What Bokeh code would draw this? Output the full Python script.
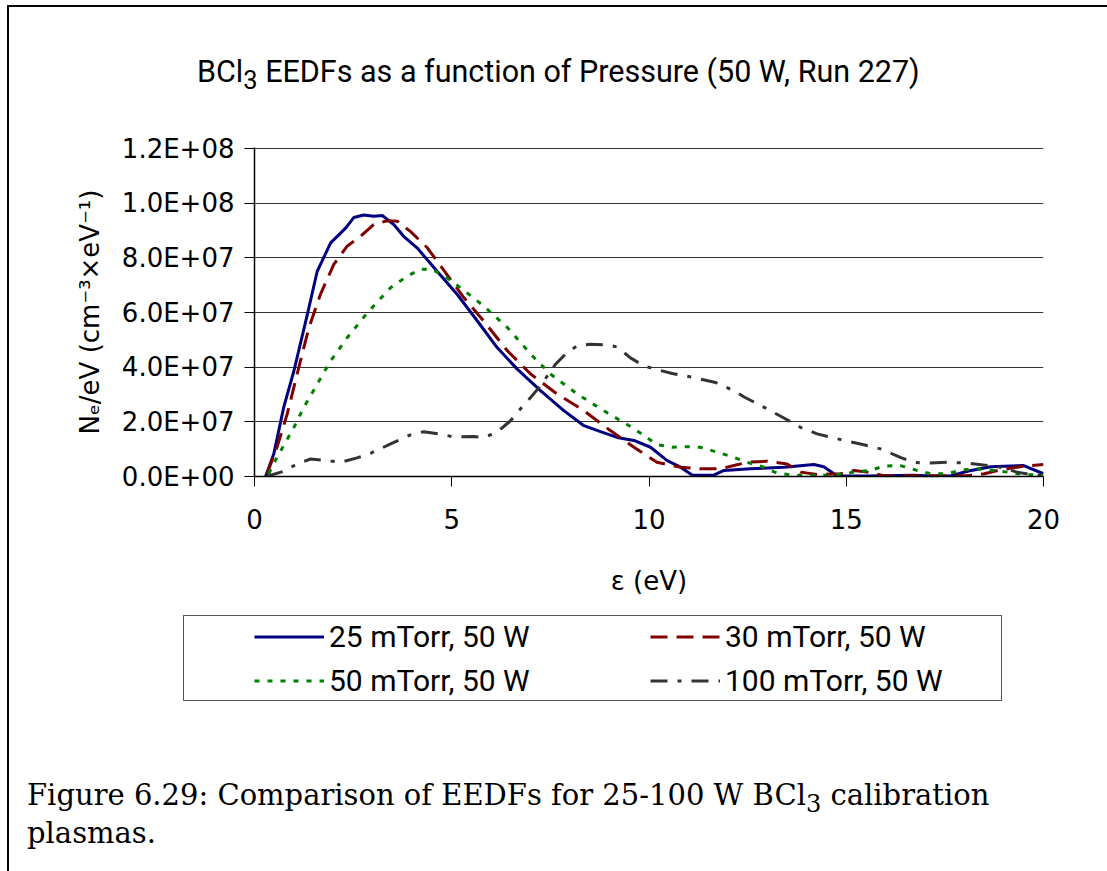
from bokeh.plotting import figure
from bokeh.layouts import column
from bokeh.models import FixedTicker, Legend, LegendItem, Div
from bokeh.embed import file_html
from bokeh.resources import INLINE

# ---------------- data ----------------
energy_25 = [0.28, 0.49, 0.74, 1.0, 1.34, 1.59, 1.93, 2.31, 2.52, 2.77, 3.02, 3.24, 3.53, 3.78,
             4.12, 4.63, 5.14, 5.65, 6.15, 6.66, 7.25, 7.84, 8.35, 8.77, 9.19, 9.62, 10.04, 10.46,
             10.8, 11.1, 11.64, 11.9, 12.57, 13.42, 14.18, 14.43, 14.77, 15.53, 16.7, 17.2, 17.64,
             18.07, 18.66, 19.5, 20.0]
eedf_25 = [0.0, 0.83e7, 2.53e7, 3.87e7, 5.93e7, 7.51e7, 8.55e7, 9.09e7, 9.48e7, 9.57e7, 9.52e7,
           9.55e7, 9.22e7, 8.79e7, 8.37e7, 7.51e7, 6.66e7, 5.69e7, 4.72e7, 3.93e7, 3.14e7, 2.41e7,
           1.86e7, 1.64e7, 1.43e7, 1.32e7, 1.07e7, 0.58e7, 0.34e7, 0.05e7, 0.05e7, 0.22e7, 0.28e7,
           0.34e7, 0.44e7, 0.36e7, 0.02e7, 0.02e7, 0.05e7, 0.02e7, 0.02e7, 0.19e7, 0.36e7, 0.40e7,
           0.10e7]

energy_30 = [0.32, 0.57, 0.83, 1.08, 1.38, 1.67, 2.01, 2.35, 2.69, 3.02, 3.36, 3.62, 3.95, 4.38,
             4.88, 5.31, 5.81, 6.41, 7.0, 7.67, 8.35, 9.02, 9.62, 10.2, 10.8, 11.3, 11.81, 12.15,
             12.49, 13.0, 13.5, 13.84, 14.26, 14.86, 15.2, 15.53, 15.95, 17.2, 18.07, 18.5, 18.9,
             19.5, 20.0]
eedf_30 = [0.1e7, 1.07e7, 2.29e7, 3.75e7, 5.45e7, 6.66e7, 7.76e7, 8.43e7, 8.79e7, 9.22e7, 9.36e7,
           9.34e7, 8.97e7, 8.37e7, 7.39e7, 6.54e7, 5.69e7, 4.6e7, 3.75e7, 3.02e7, 2.41e7, 1.68e7,
           1.07e7, 0.52e7, 0.34e7, 0.28e7, 0.28e7, 0.40e7, 0.52e7, 0.56e7, 0.46e7, 0.16e7, 0.07e7,
           0.10e7, 0.22e7, 0.16e7, 0.03e7, 0.03e7, 0.03e7, 0.10e7, 0.24e7, 0.38e7, 0.44e7]

energy_50 = [0.36, 0.57, 1.0, 1.25, 1.59, 1.93, 2.35, 2.86, 3.45, 3.87, 4.21, 4.5, 4.88, 5.22,
             5.81, 6.41, 7.0, 7.5, 8.18, 8.85, 9.53, 9.87, 10.2, 10.59, 10.97, 11.3, 11.73, 12.15,
             12.49, 12.91, 13.25, 13.67, 14.69, 15.2, 15.61, 15.95, 16.37, 16.76, 17.14, 17.56,
             17.94, 18.32, 18.74, 19.08, 19.5, 20.0]
eedf_50 = [0.1e7, 0.7e7, 1.8e7, 2.53e7, 3.38e7, 4.23e7, 5.08e7, 5.99e7, 6.91e7, 7.33e7, 7.58e7,
           7.58e7, 7.27e7, 6.91e7, 6.24e7, 5.45e7, 4.48e7, 3.75e7, 3.02e7, 2.41e7, 1.83e7, 1.5e7,
           1.17e7, 1.07e7, 1.09e7, 1.07e7, 0.89e7, 0.70e7, 0.52e7, 0.34e7, 0.12e7, 0.05e7, 0.05e7,
           0.16e7, 0.22e7, 0.38e7, 0.40e7, 0.24e7, 0.10e7, 0.10e7, 0.24e7, 0.28e7, 0.22e7, 0.16e7,
           0.07e7, 0.05e7]

energy_100 = [0.3, 0.74, 1.08, 1.42, 1.84, 2.18, 2.6, 2.94, 3.45, 3.95, 4.29, 4.71, 5.05, 5.56,
              5.81, 6.15, 6.49, 6.7, 6.96, 7.25, 7.63, 7.92, 8.18, 8.52, 8.94, 9.19, 9.53, 9.87,
              10.21, 10.59, 11.14, 11.69, 12.15, 12.4, 13.0, 13.42, 13.84, 14.26, 14.86, 15.36,
              15.87, 16.37, 16.71, 16.97, 17.56, 18.07, 18.57, 18.9, 19.33, 19.67, 20.0]
eedf_100 = [0.0, 0.19e7, 0.46e7, 0.64e7, 0.58e7, 0.52e7, 0.68e7, 0.85e7, 1.19e7, 1.52e7, 1.64e7,
            1.55e7, 1.45e7, 1.46e7, 1.43e7, 1.62e7, 2.04e7, 2.41e7, 2.83e7, 3.32e7, 4.11e7, 4.53e7,
            4.78e7, 4.84e7, 4.82e7, 4.74e7, 4.34e7, 4.05e7, 3.91e7, 3.77e7, 3.62e7, 3.44e7, 3.14e7,
            2.92e7, 2.47e7, 2.14e7, 1.8e7, 1.56e7, 1.35e7, 1.19e7, 1.01e7, 0.70e7, 0.52e7, 0.49e7,
            0.52e7, 0.49e7, 0.40e7, 0.34e7, 0.16e7, 0.07e7, 0.03e7]

series_labels = ["25 mTorr, 50 W", "30 mTorr, 50 W", "50 mTorr, 50 W", "100 mTorr, 50 W"]
x_ticks = [0, 5, 10, 15, 20]
y_ticks = [0, 20000000, 40000000, 60000000, 80000000, 100000000, 120000000]
y_tick_labels = ["0.0E+00", "2.0E+07", "4.0E+07", "6.0E+07", "8.0E+07", "1.0E+08", "1.2E+08"]
title_html = "BCl<sub style='line-height:0'>3</sub> EEDFs as a function of Pressure (50 W, Run 227)"
x_label = "\u03b5 (eV)"
y_label = "N\u2091/eV (cm\u207b\u00b3\u00d7eV\u207b\u00b9)"
caption_html = ("Figure 6.29: Comparison of EEDFs for 25-100 W "
                "BCl<sub style='line-height:0'>3</sub> calibration<br>plasmas.")

# ---------------- page geometry (page pixels) ----------------
W, H = 1107, 871
TITLE_H = 127          # title band: 0 .. 127
CHART_BOTTOM = 607     # chart canvas: 127 .. 607
LEGEND_BOTTOM = 760    # legend band: 607 .. 760, caption below
FRAME_L, FRAME_R, FRAME_T, FRAME_B = 254, 1043, 147, 476

SERIES_STYLE = [
    dict(line_color="#000080", line_width=3),
    dict(line_color="#800000", line_width=3, line_dash="17 9"),
    dict(line_color="#008000", line_width=3, line_dash="5 8"),
    dict(line_color="#333333", line_width=3, line_dash="17 10 4 10"),
]
series = [(energy_25, eedf_25), (energy_30, eedf_30), (energy_50, eedf_50),
          (energy_100, eedf_100)]


def rules_css(rules):
    """CSS painting thin rules [(x, y, w, h, colour)] behind an element."""
    return {
        "background-color": "white",
        "background-image": ", ".join(f"linear-gradient({c}, {c})" for *_, c in rules),
        "background-position": ", ".join(f"{x}px {y}px" for x, y, _, _, _ in rules),
        "background-size": ", ".join(f"{w}px {h}px" for _, _, w, h, _ in rules),
        "background-repeat": "no-repeat",
    }


# ---- title band ----
title_div = Div(
    text=('<div style="margin-left:197px; padding-top:54px; font-family:Roboto; '
          'font-size:30.5px; line-height:36px; white-space:nowrap; color:black;">'
          f'{title_html}</div>'),
    width=W, height=TITLE_H, margin=0,
    styles=rules_css([(7, 5, 2, TITLE_H, "#000"), (7, 5, W - 7, 2, "#000")]))

# ---- chart ----
chart_h = CHART_BOTTOM - TITLE_H
p = figure(width=W, height=chart_h, x_range=(0, 20), y_range=(0, 1.2e8 + 4e5),
           output_backend="svg", toolbar_location=None, margin=0,
           min_border_left=FRAME_L, min_border_right=W - FRAME_R,
           min_border_top=FRAME_T - TITLE_H, min_border_bottom=CHART_BOTTOM - FRAME_B)
p.outline_line_color = None
p.background_fill_color = "white"
p.border_fill_color = None
p.styles = rules_css([(7, 0, 2, chart_h, "#000")])

p.xaxis.ticker = FixedTicker(ticks=x_ticks)
p.yaxis.ticker = FixedTicker(ticks=y_ticks)
p.yaxis.major_label_overrides = {t: s for t, s in zip(y_ticks, y_tick_labels)}
p.xaxis.axis_label = x_label
p.yaxis.axis_label = y_label
for ax in (p.xaxis[0], p.yaxis[0]):
    ax.major_tick_in = 0
    ax.major_tick_out = 10
    ax.minor_tick_line_color = None
    ax.axis_line_color = "black"
    ax.axis_line_width = 1.5
    ax.major_tick_line_color = "black"
    ax.major_label_text_font = "DejaVu Sans"
    ax.major_label_text_font_size = "26px"
    ax.major_label_text_color = "black"
    ax.axis_label_text_font = "DejaVu Sans"
    ax.axis_label_text_font_size = "26px"
    ax.axis_label_text_font_style = "normal"
    ax.axis_label_text_color = "black"
p.yaxis.major_label_standoff = 10
p.yaxis.axis_label_standoff = 14
p.xaxis.major_label_standoff = 22
p.xaxis.axis_label_standoff = 34

p.xgrid.grid_line_color = None
p.ygrid.grid_line_color = "#333333"
p.ygrid.grid_line_width = 1

for (ex, ey), style in zip(series, SERIES_STYLE):
    p.line(ex, ey, **style)

# ---- legend band (its frame lines up with the chart frame) ----
# The key renderers carry the same series; the band's ranges keep their lines out of view,
# so only the legend samples are drawn.
leg_h = LEGEND_BOTTOM - CHART_BOTTOM
lf = figure(width=W, height=leg_h, x_range=(-3, -2), y_range=(-3, -2),
            x_axis_type=None, y_axis_type=None, output_backend="svg",
            toolbar_location=None, min_border=0, margin=0)
lf.outline_line_color = None
lf.background_fill_color = None
lf.border_fill_color = None
box_top = 615 - CHART_BOTTOM
lf.styles = rules_css([(7, 0, 2, leg_h, "#000"),
                       (183, box_top, 819, 1, "#555"), (183, box_top + 85, 819, 1, "#555"),
                       (183, box_top, 1, 86, "#555"), (1001, box_top, 1, 86, "#555")])
keys = [lf.line(ex, ey, **style) for (ex, ey), style in zip(series, SERIES_STYLE)]
legend = Legend(
    items=[LegendItem(label=lbl, renderers=[r]) for lbl, r in zip(series_labels, keys)],
    location=(0, LEGEND_BOTTOM - 701), orientation="horizontal", ncols=2,
    padding=0, margin=0, spacing=3, glyph_width=70, glyph_height=41,
    label_height=30, label_width=318, label_standoff=5,
    label_text_font="Roboto", label_text_font_size="30px", label_text_color="black",
    border_line_color=None, background_fill_alpha=0)
lf.add_layout(legend)

# ---- caption ----
caption_div = Div(
    text=('<div style="margin-left:27px; padding-top:16px; font-family:\'DejaVu Serif\'; '
          'font-size:29px; line-height:38px; white-space:nowrap; color:black;">'
          f'{caption_html}</div>'),
    width=W, height=H - LEGEND_BOTTOM, margin=0,
    styles=rules_css([(7, 0, 2, H - LEGEND_BOTTOM, "#000")]))

page = column(title_div, p, lf, caption_div, spacing=0)

open("out.html", "w").write(file_html(page, INLINE))
